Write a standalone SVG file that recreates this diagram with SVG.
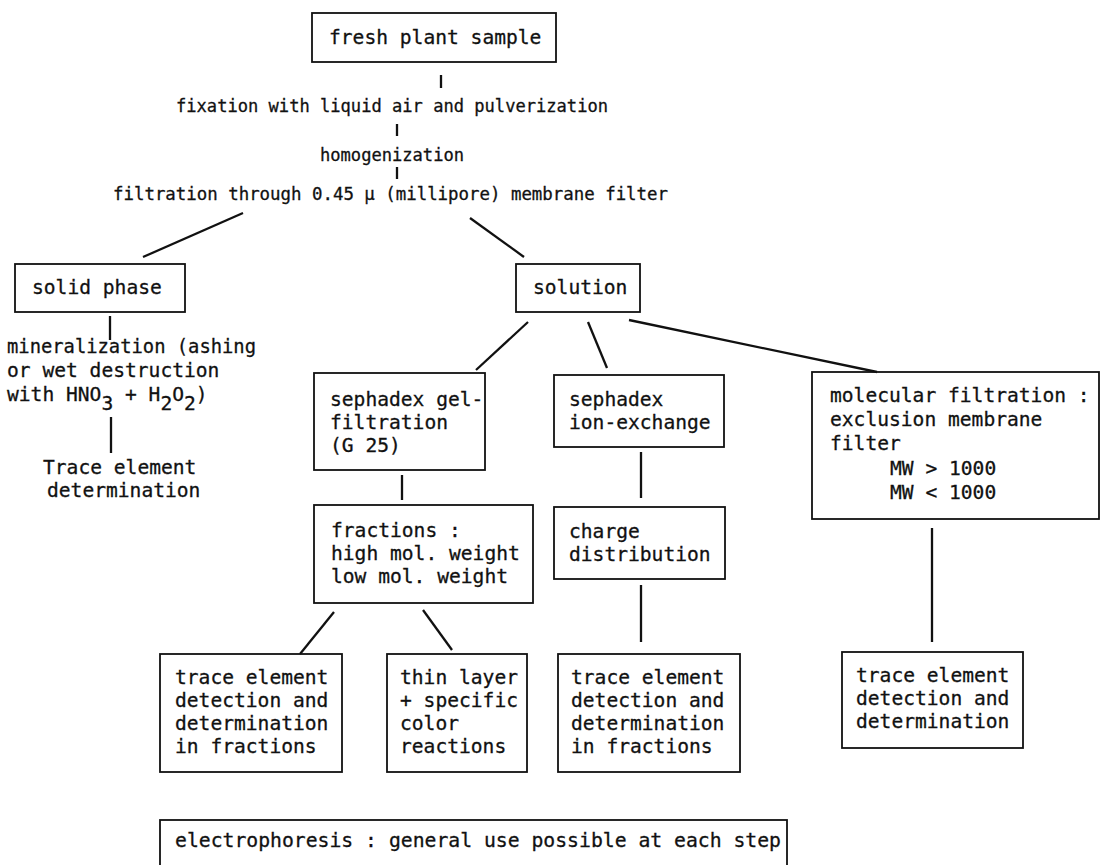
<svg xmlns="http://www.w3.org/2000/svg" width="1101" height="865" viewBox="0 0 1101 865">
<style>
text{font-family:"DejaVu Sans Mono","Liberation Mono",monospace;fill:#111;stroke:#111;stroke-width:0.3;}
.L{font-size:20px;}
.S{font-size:17.5px;}
.box{fill:none;stroke:#111;stroke-width:1.8;}
.c{stroke:#111;stroke-width:2.3;fill:none;stroke-linecap:butt;}
</style>
<rect width="1101" height="865" fill="#fff"/>
<g id="connectors">
<line class="c" x1="441" y1="75" x2="441" y2="88"/>
<line class="c" x1="397" y1="124" x2="397" y2="136"/>
<line class="c" x1="397" y1="167" x2="397" y2="179"/>
<line class="c" x1="243" y1="213" x2="143" y2="257"/>
<line class="c" x1="470" y1="218" x2="524" y2="257"/>
<line class="c" x1="110" y1="316" x2="110" y2="340"/>
<line class="c" x1="111" y1="417" x2="111" y2="453"/>
<line class="c" x1="528" y1="322" x2="476" y2="370"/>
<line class="c" x1="588" y1="322" x2="607" y2="368"/>
<line class="c" x1="629" y1="320" x2="877" y2="372"/>
<line class="c" x1="402" y1="475" x2="402" y2="500"/>
<line class="c" x1="641" y1="452" x2="641" y2="498"/>
<line class="c" x1="641" y1="585" x2="641" y2="642"/>
<line class="c" x1="932" y1="528" x2="932" y2="642"/>
<line class="c" x1="334" y1="612" x2="300" y2="654"/>
<line class="c" x1="423" y1="610" x2="452" y2="650"/>
</g>
<g id="fresh">
<rect class="box" x="312" y="13" width="244" height="49"/>
<text class="L" x="329" y="44" textLength="212.4" lengthAdjust="spacingAndGlyphs">fresh plant sample</text>
</g>
<g id="fixation"><text class="S" x="176" y="112" textLength="432" lengthAdjust="spacingAndGlyphs">fixation with liquid air and pulverization</text></g>
<g id="homogenization"><text class="S" x="320" y="161" textLength="144" lengthAdjust="spacingAndGlyphs">homogenization</text></g>
<g id="filtration"><text class="S" x="113" y="200" textLength="555" lengthAdjust="spacingAndGlyphs">filtration through 0.45 µ (millipore) membrane filter</text></g>
<g id="solid">
<rect class="box" x="15" y="264" width="170" height="48"/>
<text class="L" x="32" y="294" textLength="129.8" lengthAdjust="spacingAndGlyphs">solid phase</text>
</g>
<g id="mineralization">
<text class="L" x="7" y="353" textLength="249" lengthAdjust="spacingAndGlyphs">mineralization (ashing</text>
<text class="L" x="7" y="377" textLength="212.4" lengthAdjust="spacingAndGlyphs">or wet destruction</text>
<text class="L" y="401"><tspan x="7" textLength="94.4" lengthAdjust="spacingAndGlyphs">with HNO</tspan><tspan x="101.4" dy="9" textLength="11.8" lengthAdjust="spacingAndGlyphs">3</tspan><tspan x="125" dy="-9" textLength="35.4" lengthAdjust="spacingAndGlyphs">+ H</tspan><tspan x="160.4" dy="9" textLength="11.8" lengthAdjust="spacingAndGlyphs">2</tspan><tspan x="172.2" dy="-9" textLength="11.8" lengthAdjust="spacingAndGlyphs">O</tspan><tspan x="184" dy="9" textLength="11.8" lengthAdjust="spacingAndGlyphs">2</tspan><tspan x="195.8" dy="-9" textLength="11.8" lengthAdjust="spacingAndGlyphs">)</tspan></text>
</g>
<g id="trace-left">
<text class="L" x="43" y="474" textLength="153.4" lengthAdjust="spacingAndGlyphs">Trace element</text>
<text class="L" x="47" y="497" textLength="153.4" lengthAdjust="spacingAndGlyphs">determination</text>
</g>
<g id="solution">
<rect class="box" x="516" y="264" width="124" height="48"/>
<text class="L" x="533" y="294" textLength="94.4" lengthAdjust="spacingAndGlyphs">solution</text>
</g>
<g id="gel">
<rect class="box" x="314" y="373" width="171" height="97"/>
<text class="L" x="330" y="406" textLength="153.4" lengthAdjust="spacingAndGlyphs">sephadex gel-</text>
<text class="L" x="330" y="429" textLength="118" lengthAdjust="spacingAndGlyphs">filtration</text>
<text class="L" x="330" y="452" textLength="70.8" lengthAdjust="spacingAndGlyphs">(G 25)</text>
</g>
<g id="ion">
<rect class="box" x="554" y="375" width="170" height="72"/>
<text class="L" x="569" y="406" textLength="94.4" lengthAdjust="spacingAndGlyphs">sephadex</text>
<text class="L" x="569" y="429" textLength="141.6" lengthAdjust="spacingAndGlyphs">ion-exchange</text>
</g>
<g id="molecular">
<rect class="box" x="812" y="372" width="287" height="147"/>
<text class="L" x="830" y="402" textLength="259.6" lengthAdjust="spacingAndGlyphs">molecular filtration :</text>
<text class="L" x="830" y="426" textLength="212.4" lengthAdjust="spacingAndGlyphs">exclusion membrane</text>
<text class="L" x="830" y="450" textLength="70.8" lengthAdjust="spacingAndGlyphs">filter</text>
<text class="L" x="890" y="475" textLength="106.2" lengthAdjust="spacingAndGlyphs">MW &gt; 1000</text>
<text class="L" x="890" y="499" textLength="106.2" lengthAdjust="spacingAndGlyphs">MW &lt; 1000</text>
</g>
<g id="fractions">
<rect class="box" x="314" y="505" width="219" height="98"/>
<text class="L" x="331" y="537" textLength="129.8" lengthAdjust="spacingAndGlyphs">fractions :</text>
<text class="L" x="331" y="560" textLength="188.8" lengthAdjust="spacingAndGlyphs">high mol. weight</text>
<text class="L" x="331" y="583" textLength="177" lengthAdjust="spacingAndGlyphs">low mol. weight</text>
</g>
<g id="charge">
<rect class="box" x="554" y="507" width="171" height="72"/>
<text class="L" x="569" y="538" textLength="70.8" lengthAdjust="spacingAndGlyphs">charge</text>
<text class="L" x="569" y="561" textLength="141.6" lengthAdjust="spacingAndGlyphs">distribution</text>
</g>
<g id="trace1">
<rect class="box" x="160" y="654" width="182" height="118"/>
<text class="L" x="175" y="684" textLength="153.4" lengthAdjust="spacingAndGlyphs">trace element</text>
<text class="L" x="175" y="707" textLength="153.4" lengthAdjust="spacingAndGlyphs">detection and</text>
<text class="L" x="175" y="730" textLength="153.4" lengthAdjust="spacingAndGlyphs">determination</text>
<text class="L" x="175" y="753" textLength="141.6" lengthAdjust="spacingAndGlyphs">in fractions</text>
</g>
<g id="thin">
<rect class="box" x="387" y="654" width="140" height="118"/>
<text class="L" x="400" y="684" textLength="118" lengthAdjust="spacingAndGlyphs">thin layer</text>
<text class="L" x="400" y="707" textLength="118" lengthAdjust="spacingAndGlyphs">+ specific</text>
<text class="L" x="400" y="730" textLength="59" lengthAdjust="spacingAndGlyphs">color</text>
<text class="L" x="400" y="753" textLength="106.2" lengthAdjust="spacingAndGlyphs">reactions</text>
</g>
<g id="trace3">
<rect class="box" x="558" y="654" width="182" height="118"/>
<text class="L" x="571" y="684" textLength="153.4" lengthAdjust="spacingAndGlyphs">trace element</text>
<text class="L" x="571" y="707" textLength="153.4" lengthAdjust="spacingAndGlyphs">detection and</text>
<text class="L" x="571" y="730" textLength="153.4" lengthAdjust="spacingAndGlyphs">determination</text>
<text class="L" x="571" y="753" textLength="141.6" lengthAdjust="spacingAndGlyphs">in fractions</text>
</g>
<g id="trace4">
<rect class="box" x="842" y="652" width="181" height="96"/>
<text class="L" x="856" y="682" textLength="153.4" lengthAdjust="spacingAndGlyphs">trace element</text>
<text class="L" x="856" y="705" textLength="153.4" lengthAdjust="spacingAndGlyphs">detection and</text>
<text class="L" x="856" y="728" textLength="153.4" lengthAdjust="spacingAndGlyphs">determination</text>
</g>
<g id="electrophoresis">
<rect class="box" x="160" y="820" width="627" height="60"/>
<text class="L" x="175" y="847" textLength="606" lengthAdjust="spacingAndGlyphs">electrophoresis : general use possible at each step</text>
</g>
</svg>
